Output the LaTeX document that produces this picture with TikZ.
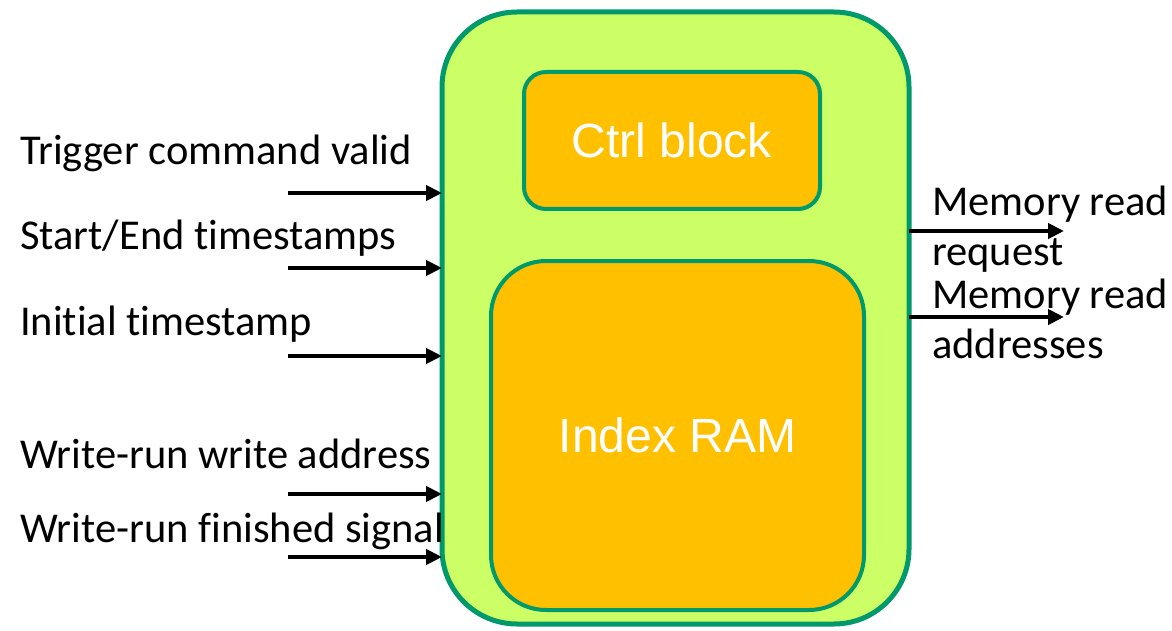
\documentclass[tikz,border=0pt]{standalone}
\usepackage{fontspec}
\setmainfont[Ligatures=NoCommon]{Carlito}
\newfontfamily\arialf{Liberation Sans}
\usetikzlibrary{arrows.meta}
\definecolor{outerfill}{HTML}{CCFF66}
\definecolor{boxline}{HTML}{00996B}
\definecolor{innerfill}{HTML}{FFC000}
\begin{document}
\begin{tikzpicture}[x=1pt,y=-1pt,
  outerbox/.style={draw=boxline,fill=outerfill,line width=5pt,rounded corners=75pt,outer sep=0pt,inner sep=0pt},
  innerbox/.style={draw=boxline,fill=innerfill,line width=4pt,outer sep=0pt,inner sep=0pt,text=white,font=\arialf\fontsize{48}{54}\selectfont},
  lbl/.style={anchor=base west,inner sep=0pt,font=\fontsize{42.5}{48}\selectfont},
  arr/.style={line width=4pt,-{Triangle[length=16pt,width=15pt]}}]
\useasboundingbox (0,0) rectangle (1172,631);
% outer block
\node[outerbox,minimum width=467pt,minimum height=612pt] (outer) at (675.5,318) {};
\node[innerbox,rounded corners=22pt,minimum width=296pt,minimum height=137pt] (ctrl) at (672,140.5) {\raisebox{-3pt}{Ctrl block}};
\node[innerbox,rounded corners=55pt,minimum width=373pt,minimum height=349pt] (ram) at (677.5,435.5) {Index RAM};
% left labels
\node[lbl] (t1) at (20,165) {Trigger command valid};
\node[lbl] (t2) at (20,249) {Start/End timestamps};
\node[lbl] (t3) at (20,335) {Initial timestamp};
\node[lbl] (t4) at (20,468) {Write-run write address};
\node[lbl] (t5) at (20,542) {Write-run finished signal};
% left arrows
\coordinate (i1) at (288,193);
\coordinate (i2) at (288,268);
\coordinate (i3) at (288,356);
\coordinate (i4) at (288,494);
\coordinate (i5) at (288,557);
\foreach \c in {i1,i2,i3,i4,i5}{
  \draw[arr] (\c) -- (\c -| outer.west);
}
% right arrows
\coordinate (o1) at (1064,231);
\coordinate (o2) at (1064,317);
\draw[arr] (o1 -| outer.east) -- (o1);
\draw[arr] (o2 -| outer.east) -- (o2);
% right labels
\node[lbl] (r1) at (932,215) {Memory read};
\node[lbl] (r2) at (932,265) {request};
\node[lbl] (r3) at (932,308) {Memory read};
\node[lbl] (r4) at (932,358) {addresses};
\end{tikzpicture}
\end{document}
